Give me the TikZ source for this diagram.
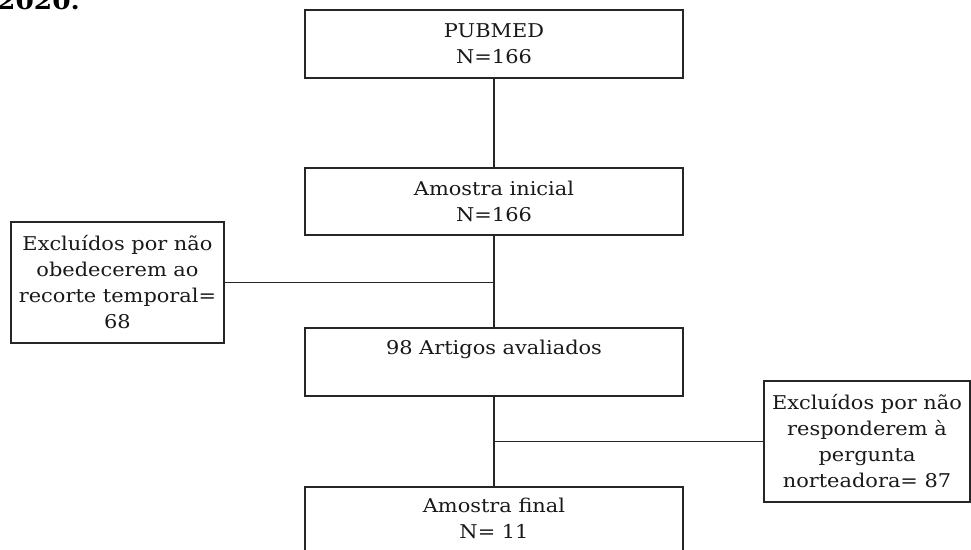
\documentclass[tikz,border=0pt]{standalone}
\usepackage{fontspec}
\setmainfont[FakeStretch=1.1]{DejaVu Serif}
\begin{document}
\begin{tikzpicture}[x=1pt,y=-1pt,
  txt/.style={font=\fontsize{19}{26}\selectfont,text=black!90},
  box/.style={draw=black!85,line width=1.5pt,rectangle,inner sep=0pt,align=center,txt},
  conn/.style={draw=black!85,line width=1.5pt}]
\useasboundingbox (0,0) rectangle (971,549);
\clip (0,0) rectangle (971,549);
\node[anchor=base west,font=\bfseries\fontsize{24}{24}\selectfont,inner sep=0pt] (yr) at (-3,9) {2020.};
\node[box,minimum width=378pt,minimum height=68pt] (pub) at (494,44) {PUBMED\\N=166};
\node[box,minimum width=378pt,minimum height=67pt] (ini) at (494,201.5) {Amostra inicial\\N=166};
\node[box,minimum width=213pt,minimum height=121pt] (exc1) at (117.5,282.5) {Excluídos por não\\obedecerem ao\\recorte temporal=\\68};
\node[box,minimum width=378pt,minimum height=68pt] (art) at (494,362) {};
\node[txt,inner sep=0pt] (artt) at (494,349) {98 Artigos avaliados};
\node[box,minimum width=206pt,minimum height=121pt] (exc2) at (867,441.5) {Excluídos por não\\responderem à\\pergunta\\norteadora= 87};
\node[box,minimum width=378pt,minimum height=68pt] (fin) at (494,521) {};
\node[txt,inner sep=0pt,align=center] (fint) at (494,518) {Amostra final\\N= 11};
\draw[conn] (pub.south) -- (ini.north);
\draw[conn] (ini.south) -- (art.north);
\draw[conn] (exc1.east) -- (exc1.east -| ini.south);
\draw[conn] (art.south) -- (fin.north);
\draw[conn] (exc2.west) -- (exc2.west -| art.south);
\end{tikzpicture}
\end{document}
